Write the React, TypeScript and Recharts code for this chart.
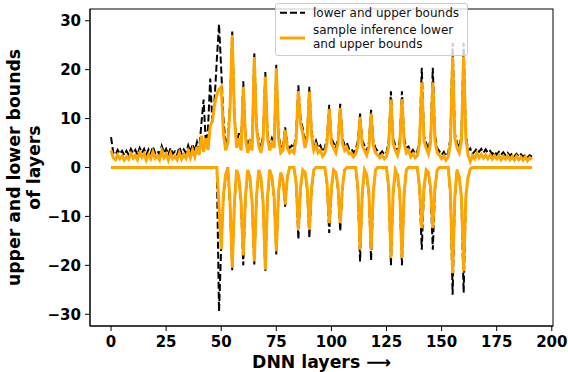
import React from 'react';
import { LineChart, Line, XAxis, YAxis } from 'recharts';

const W = 568;
const H = 372;
const PLOT_LEFT = 90;
const PLOT_RIGHT = 553;
const PLOT_TOP = 9;
const PLOT_BOTTOM = 326;

// layer index 0..191
const layers = Array.from({ length: 192 }, (_, i) => i);

// black dashed: lower and upper bounds
const upper = [
  6.2, 3.0, 2.6, 3.6, 2.8, 3.4, 2.5, 3.4, 2.6, 3.8,
  2.9, 3.6, 2.6, 4.0, 3.0, 3.8, 2.6, 3.7, 2.8, 4.3,
  2.9, 3.4, 2.7, 4.4, 3.0, 3.8, 2.6, 4.0, 2.8, 3.3,
  2.6, 4.2, 2.8, 3.7, 3.0, 4.5, 3.1, 4.8, 3.3, 5.2,
  3.6, 9.0, 13.9, 5.0, 8.0, 18.2, 9.0, 14.0, 22.0, 29.3,
  20.0, 10.0, 4.5, 6.0, 13.0, 27.8, 11.0, 5.0, 7.0, 4.5,
  17.6, 7.0, 4.0, 6.0, 4.5, 23.5, 9.0, 5.5, 4.0, 6.5,
  19.5, 7.0, 4.5, 6.0, 5.0, 21.0, 7.0, 4.0, 4.5, 8.2,
  5.0, 4.0, 4.5, 4.0, 7.0, 16.8, 10.0, 8.0, 5.0, 7.0,
  16.5, 7.5, 4.5, 5.5, 4.0, 4.5, 3.2, 4.0, 6.0, 12.8,
  6.0, 5.0, 4.0, 6.0, 13.0, 6.0, 4.5, 5.0, 3.8, 4.0,
  3.0, 3.6, 5.5, 11.0, 5.5, 4.5, 3.3, 5.0, 11.8, 5.5,
  4.0, 3.3, 2.8, 3.3, 2.6, 3.1, 5.5, 15.6, 6.0, 4.5,
  3.3, 5.5, 15.6, 6.0, 4.0, 4.3, 3.0, 3.6, 2.8, 3.3,
  6.0, 20.4, 6.5, 5.0, 3.6, 6.0, 20.4, 6.5, 4.0, 3.3,
  2.6, 3.2, 2.3, 3.0, 6.0, 25.5, 7.0, 5.0, 4.0, 6.5,
  25.5, 7.0, 3.5, 3.9, 2.8, 3.3, 3.9, 3.2, 3.8, 3.0,
  3.7, 3.0, 3.4, 2.7, 3.3, 2.6, 3.2, 2.6, 3.1, 2.5,
  3.0, 2.4, 2.9, 2.3, 2.8, 2.2, 2.7, 2.2, 2.6, 2.1,
  2.5, 2.2,
];

const lower = [
  0, 0, 0, 0, 0, 0, 0, 0, 0, 0,
  0, 0, 0, 0, 0, 0, 0, 0, 0, 0,
  0, 0, 0, 0, 0, 0, 0, 0, 0, 0,
  0, 0, 0, 0, 0, 0, 0, 0, 0, 0,
  0, 0, 0, 0, 0, 0, 0, 0, 0, -29.4,
  -16, -6, -1.5, 0, -8, -21, -7.5, -0.5, -2, -7.5,
  -20, -6.5, -0.5, -2, -7.5, -19.8, -6.5, -0.5, -2, -7.5,
  -21.2, -6.5, -0.5, -2, -6.5, -17.8, -5.5, -1, -2.5, -8,
  -2, 0, 0, 0, -3.5, -14.7, -4.5, -0.5, -1, -4.5,
  -14.4, -4.5, -0.5, 0, 0, 0, 0, 0, -3.5, -13.4,
  -4.5, -0.5, -1, -4.5, -13, -4.5, -0.5, 0, 0, 0,
  0, 0, -4.5, -19.2, -5.5, -0.5, -1.5, -5.5, -19, -5.5,
  -0.5, 0, 0, 0, 0, 0, -4.5, -20, -5.5, -0.5,
  -1.5, -5.5, -20, -5.5, -0.5, 0, 0, 0, 0, 0,
  -4.5, -16.8, -4.5, -0.5, -1, -4.5, -16.8, -4.5, -0.5, 0,
  0, 0, 0, 0, -5.5, -26, -6.5, -0.5, -2, -6.5,
  -25.6, -6.5, -2, -0.3, 0, 0, 0, 0, 0, 0,
  0, 0, 0, 0, 0, 0, 0, 0, 0, 0,
  0, 0, 0, 0, 0, 0, 0, 0, 0, 0,
  0, 0,
];

// orange: sample inference lower and upper bounds
const sampleUpper = [
  3.5, 2.0, 1.6, 2.6, 1.8, 2.4, 1.5, 2.2, 1.7, 2.8,
  1.9, 2.5, 1.6, 3.0, 2.1, 2.8, 1.5, 2.6, 1.8, 3.2,
  1.9, 2.4, 1.6, 3.4, 2.0, 2.7, 1.5, 2.9, 1.8, 2.3,
  1.6, 3.0, 1.7, 2.6, 1.9, 3.3, 2.0, 3.6, 2.2, 4.2,
  2.6, 6.5, 3.2, 6.0, 3.6, 8.5, 9.5, 13.0, 15.0, 16.0,
  16.5, 7.0, 3.5, 5.0, 12.0, 27.1, 10.0, 4.0, 6.0, 3.5,
  16.5, 6.0, 3.0, 5.0, 3.5, 22.6, 8.0, 4.5, 3.0, 5.5,
  18.6, 6.0, 3.5, 5.0, 4.0, 20.3, 6.0, 3.0, 3.5, 7.7,
  4.0, 3.0, 3.5, 3.0, 6.0, 15.6, 9.0, 7.0, 4.0, 6.0,
  15.5, 6.5, 3.5, 4.5, 3.0, 3.5, 2.3, 3.0, 5.0, 12.0,
  5.0, 4.0, 3.0, 5.0, 12.2, 5.0, 3.5, 4.0, 2.8, 3.0,
  2.2, 2.8, 4.5, 10.3, 4.5, 3.5, 2.5, 4.0, 11.0, 4.5,
  3.0, 2.5, 2.0, 2.5, 1.8, 2.3, 4.5, 13.9, 5.0, 3.5,
  2.5, 4.5, 14.0, 5.0, 3.0, 3.5, 2.2, 2.8, 2.0, 2.5,
  5.0, 17.4, 5.5, 4.0, 2.8, 5.0, 17.4, 5.5, 3.0, 2.5,
  1.8, 2.4, 1.5, 2.2, 5.0, 22.7, 6.0, 4.0, 3.0, 5.5,
  22.7, 6.0, 2.5, 1.2, 2.4, 1.8, 2.9, 2.0, 2.7, 1.9,
  2.6, 1.8, 2.5, 1.7, 2.4, 1.8, 2.5, 1.6, 2.3, 1.7,
  2.4, 1.6, 2.2, 1.5, 2.3, 1.6, 2.1, 1.5, 2.2, 1.4,
  2.0, 1.6,
];

const sampleLower = [
  0, 0, 0, 0, 0, 0, 0, 0, 0, 0,
  0, 0, 0, 0, 0, 0, 0, 0, 0, 0,
  0, 0, 0, 0, 0, 0, 0, 0, 0, 0,
  0, 0, 0, 0, 0, 0, 0, 0, 0, 0,
  0, 0, 0, 0, 0, 0, 0, 0, 0, -8,
  -16.7, -5.5, -1.5, 0, -7, -20.5, -7, -0.5, -2, -7,
  -18, -6, -0.5, -2, -7, -19.2, -6, -0.5, -2, -7,
  -20.9, -6, -0.5, -2, -6, -17.1, -5, -1, -2.5, -7.6,
  -2, 0, 0, 0, -3, -12.7, -4, -0.5, -1, -4,
  -12.7, -4, -0.5, 0, 0, 0, 0, 0, -3, -11.4,
  -4, -0.5, -1, -4, -11.4, -4, -0.5, 0, 0, 0,
  0, 0, -4, -16.8, -5, -0.5, -1.5, -5, -16.8, -5,
  -0.5, 0, 0, 0, 0, 0, -4, -18.5, -5, -0.5,
  -1.5, -5, -18.5, -5, -0.5, 0, 0, 0, 0, 0,
  -4, -12.4, -4, -0.5, -1, -4, -12.4, -4, -0.5, 0,
  0, 0, 0, 0, -5, -21.6, -6, -0.5, -2, -6,
  -21.2, -6, -2, -0.3, 0, 0, 0, 0, 0, 0,
  0, 0, 0, 0, 0, 0, 0, 0, 0, 0,
  0, 0, 0, 0, 0, 0, 0, 0, 0, 0,
  0, 0,
];

const xTicks = [0, 25, 50, 75, 100, 125, 150, 175, 200];
const yTicks = [-30, -20, -10, 0, 10, 20, 30];

const data = layers.map((layer, i) => ({
  layer,
  upper: upper[i],
  lower: lower[i],
  sampleUpper: sampleUpper[i],
  sampleLower: sampleLower[i],
}));

const FONT = '"DejaVu Sans", sans-serif';
const ORANGE = '#ffa500';
const tickStyle = { fill: '#000', fontSize: 15, fontWeight: 'bold', fontFamily: FONT };

const fmt = (v: number) => (v < 0 ? '\u2212' + Math.abs(v) : String(v));

export default function App() {
  const midY = (PLOT_TOP + PLOT_BOTTOM) / 2;
  return (
    <div style={{ position: 'absolute', left: 0, top: 0, width: W, height: H, background: '#fff', fontFamily: FONT }}>
      <LineChart
        width={W}
        height={H}
        data={data}
        margin={{ top: PLOT_TOP, right: W - PLOT_RIGHT, left: 0, bottom: 0 }}
      >
        <XAxis
          dataKey="layer"
          type="number"
          domain={[-9.55, 200.55]}
          allowDataOverflow
          ticks={xTicks}
          interval={0}
          height={H - PLOT_BOTTOM}
          tickSize={5}
          tickMargin={5}
          stroke="#000"
          tick={tickStyle}
        />
        <YAxis
          type="number"
          domain={[-32.4, 32.4]}
          allowDataOverflow
          ticks={yTicks}
          interval={0}
          width={PLOT_LEFT}
          tickSize={5}
          tickMargin={4}
          stroke="#000"
          tick={tickStyle}
          tickFormatter={fmt}
        />
        <Line dataKey="upper" stroke="#000" strokeWidth={2} strokeDasharray="7 3" dot={false} isAnimationActive={false} />
        <Line dataKey="lower" stroke="#000" strokeWidth={2} strokeDasharray="7 3" dot={false} isAnimationActive={false} />
        <Line dataKey="sampleUpper" stroke={ORANGE} strokeWidth={3} dot={false} isAnimationActive={false} />
        <Line dataKey="sampleLower" stroke={ORANGE} strokeWidth={3} dot={false} isAnimationActive={false} />
      </LineChart>

      {/* axes frame and axis titles */}
      <svg width={W} height={H} style={{ position: 'absolute', left: 0, top: 0, pointerEvents: 'none' }}>
        <rect x={PLOT_LEFT} y={PLOT_TOP} width={PLOT_RIGHT - PLOT_LEFT} height={PLOT_BOTTOM - PLOT_TOP} fill="none" stroke="#000" strokeWidth={1} />
        <text x={(PLOT_LEFT + PLOT_RIGHT) / 2} y={362} textAnchor="middle" dominantBaseline="central" fontSize={17.3} fontWeight="bold" fontFamily={FONT}>
          DNN layers {'\u27F6'}
        </text>
        <g transform={`translate(14, ${midY}) rotate(-90)`}>
          <text textAnchor="middle" dominantBaseline="central" fontSize={17.3} fontWeight="bold" fontFamily={FONT}>
            upper and lower bounds
          </text>
        </g>
        <g transform={`translate(34, ${midY}) rotate(-90)`}>
          <text textAnchor="middle" dominantBaseline="central" fontSize={17.3} fontWeight="bold" fontFamily={FONT}>
            of layers
          </text>
        </g>
      </svg>

      {/* legend */}
      <div
        style={{
          position: 'absolute',
          left: 275,
          top: 3,
          width: 193,
          height: 53,
          boxSizing: 'border-box',
          border: '1px solid #cccccc',
          borderRadius: 3,
          background: 'rgba(255,255,255,0.8)',
        }}
      >
        <svg width={193} height={53} style={{ position: 'absolute', left: -1, top: -1 }}>
          <line x1={5} x2={30} y1={9.7} y2={9.7} stroke="#000" strokeWidth={2} strokeDasharray="7 3" />
          <line x1={5} x2={30} y1={35} y2={35} stroke={ORANGE} strokeWidth={3} />
          <text x={38} y={9.7} dominantBaseline="central" fontSize={12} fontFamily={FONT} fill="#111">
            lower and upper bounds
          </text>
          <text x={38} y={27} dominantBaseline="central" fontSize={12} fontFamily={FONT} fill="#111">
            sample inference lower
          </text>
          <text x={38} y={41} dominantBaseline="central" fontSize={12} fontFamily={FONT} fill="#111">
            and upper bounds
          </text>
        </svg>
      </div>
    </div>
  );
}
